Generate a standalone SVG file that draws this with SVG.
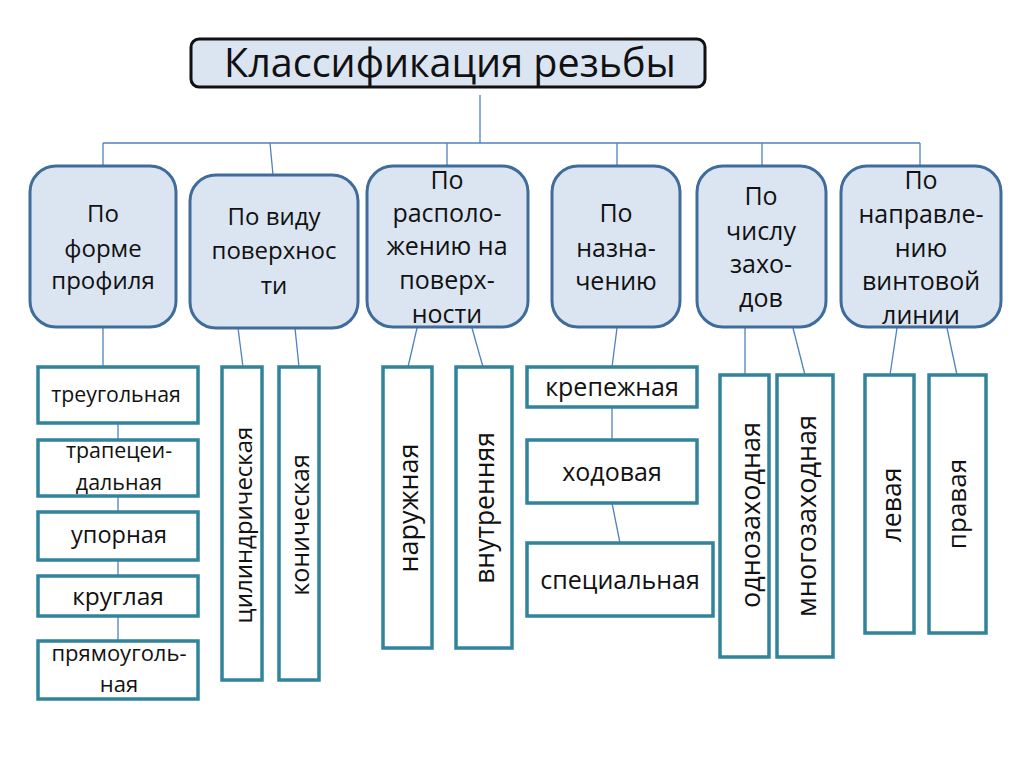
<svg xmlns="http://www.w3.org/2000/svg" width="1024" height="767" viewBox="0 0 1024 767">
<style>
.cat{fill:#dbe5f1;stroke:#3f6c9a;stroke-width:3}
.leaf{fill:#fff;stroke:#31849b;stroke-width:3.5}
.t{font-family:"Open Sans","Liberation Sans",sans-serif;fill:#111;text-anchor:middle}
.conn line{stroke:#4f81bd;stroke-width:1.3}
</style>
<rect width="1024" height="767" fill="#fff"/>
<g id="connectors" class="conn">
<line x1="480" y1="95" x2="480" y2="143"/>
<line x1="103" y1="143" x2="920" y2="143"/>
<line x1="103" y1="143" x2="103" y2="166"/>
<line x1="270" y1="143" x2="273" y2="175"/>
<line x1="447" y1="143" x2="447" y2="166"/>
<line x1="617" y1="143" x2="617" y2="166"/>
<line x1="762" y1="143" x2="762" y2="166"/>
<line x1="920" y1="143" x2="920" y2="166"/>
<line x1="103" y1="328" x2="103" y2="367"/>
<line x1="118" y1="423" x2="118" y2="440"/>
<line x1="118" y1="496" x2="118" y2="512"/>
<line x1="118" y1="560" x2="118" y2="576"/>
<line x1="118" y1="616" x2="118" y2="641"/>
<line x1="238" y1="328" x2="243" y2="367"/>
<line x1="295" y1="328" x2="299" y2="367"/>
<line x1="417" y1="328" x2="408" y2="367"/>
<line x1="472" y1="328" x2="483" y2="367"/>
<line x1="617" y1="328" x2="612" y2="367"/>
<line x1="612" y1="407" x2="612" y2="440"/>
<line x1="612" y1="503" x2="620" y2="543"/>
<line x1="745" y1="328" x2="745" y2="375"/>
<line x1="793" y1="328" x2="805" y2="375"/>
<line x1="897" y1="328" x2="890" y2="375"/>
<line x1="947" y1="328" x2="957" y2="375"/>
</g>
<g id="title">
<rect x="191" y="39" width="514" height="48" rx="8" fill="#dbe5f1" stroke="#111" stroke-width="3"/>
<text class="t" x="450" y="77" font-size="39.5">Классификация резьбы</text>
</g>
<g id="cat1" font-size="24">
<rect class="cat" x="30" y="166" width="146" height="161" rx="26"/>
<text class="t" x="103" y="222">По</text>
<text class="t" x="103" y="257">форме</text>
<text class="t" x="103" y="289">профиля</text>
</g>
<g id="cat2" font-size="24">
<rect class="cat" x="190" y="175" width="168" height="153" rx="26"/>
<text class="t" x="274" y="225">По виду</text>
<text class="t" x="274" y="259">поверхнос</text>
<text class="t" x="274" y="294">ти</text>
</g>
<g id="cat3" font-size="25">
<rect class="cat" x="367" y="166" width="161" height="161" rx="26"/>
<text class="t" x="447" y="189">По</text>
<text class="t" x="447" y="222">располо-</text>
<text class="t" x="447" y="255">жению на</text>
<text class="t" x="447" y="289">поверх-</text>
<text class="t" x="447" y="323">ности</text>
</g>
<g id="cat4" font-size="25">
<rect class="cat" x="552" y="166" width="128" height="161" rx="26"/>
<text class="t" x="616" y="222">По</text>
<text class="t" x="616" y="257">назна-</text>
<text class="t" x="616" y="290">чению</text>
</g>
<g id="cat5" font-size="25">
<rect class="cat" x="697" y="166" width="129" height="161" rx="26"/>
<text class="t" x="761" y="205">По</text>
<text class="t" x="761" y="240">числу</text>
<text class="t" x="761" y="273">захо-</text>
<text class="t" x="761" y="307">дов</text>
</g>
<g id="cat6" font-size="25">
<rect class="cat" x="841" y="166" width="160" height="161" rx="26"/>
<text class="t" x="921" y="189">По</text>
<text class="t" x="921" y="223">направле-</text>
<text class="t" x="921" y="257">нию</text>
<text class="t" x="921" y="290">винтовой</text>
<text class="t" x="921" y="324">линии</text>
</g>
<g id="leaf-treug">
<rect class="leaf" x="38" y="367" width="160" height="56"/>
<text class="t" x="116" y="402" font-size="21.3">треугольная</text>
</g>
<g id="leaf-trap">
<rect class="leaf" x="38" y="440" width="160" height="56"/>
<text class="t" x="119" y="458" font-size="21.4">трапецеи-</text>
<text class="t" x="119" y="490" font-size="21.4">дальная</text>
</g>
<g id="leaf-upor">
<rect class="leaf" x="38" y="512" width="160" height="48"/>
<text class="t" x="119" y="543" font-size="23.5">упорная</text>
</g>
<g id="leaf-krug">
<rect class="leaf" x="38" y="576" width="160" height="40"/>
<text class="t" x="118" y="605" font-size="24.5">круглая</text>
</g>
<g id="leaf-pryam">
<rect class="leaf" x="38" y="641" width="160" height="58"/>
<text class="t" x="119" y="661" font-size="22">прямоуголь-</text>
<text class="t" x="119" y="692" font-size="22">ная</text>
</g>
<g id="leaf-cil">
<rect class="leaf" x="222" y="367" width="40" height="313"/>
<text class="t" transform="translate(252,525) rotate(-90)" font-size="24">цилиндрическая</text>
</g>
<g id="leaf-kon">
<rect class="leaf" x="279" y="367" width="40" height="313"/>
<text class="t" transform="translate(309,525) rotate(-90)" font-size="25">коническая</text>
</g>
<g id="leaf-nar">
<rect class="leaf" x="383" y="367" width="49" height="281"/>
<text class="t" transform="translate(418,508) rotate(-90)" font-size="27">наружная</text>
</g>
<g id="leaf-vnut">
<rect class="leaf" x="456" y="367" width="56" height="281"/>
<text class="t" transform="translate(494,508) rotate(-90)" font-size="26.5">внутренняя</text>
</g>
<g id="leaf-krep">
<rect class="leaf" x="527" y="367" width="170" height="40"/>
<text class="t" x="612" y="396" font-size="25">крепежная</text>
</g>
<g id="leaf-hod">
<rect class="leaf" x="527" y="440" width="170" height="63"/>
<text class="t" x="612" y="481" font-size="25">ходовая</text>
</g>
<g id="leaf-spec">
<rect class="leaf" x="527" y="543" width="186" height="73"/>
<text class="t" x="620" y="589" font-size="25">специальная</text>
</g>
<g id="leaf-odno">
<rect class="leaf" x="720" y="375" width="49" height="282"/>
<text class="t" transform="translate(760,515) rotate(-90)" font-size="27">однозаходная</text>
</g>
<g id="leaf-mnogo">
<rect class="leaf" x="777" y="375" width="56" height="282"/>
<text class="t" transform="translate(816,516) rotate(-90)" font-size="27">многозаходная</text>
</g>
<g id="leaf-lev">
<rect class="leaf" x="865" y="375" width="49" height="258"/>
<text class="t" transform="translate(901,505) rotate(-90)" font-size="26.5">левая</text>
</g>
<g id="leaf-prav">
<rect class="leaf" x="929" y="375" width="57" height="258"/>
<text class="t" transform="translate(966,504) rotate(-90)" font-size="26">правая</text>
</g>
</svg>
